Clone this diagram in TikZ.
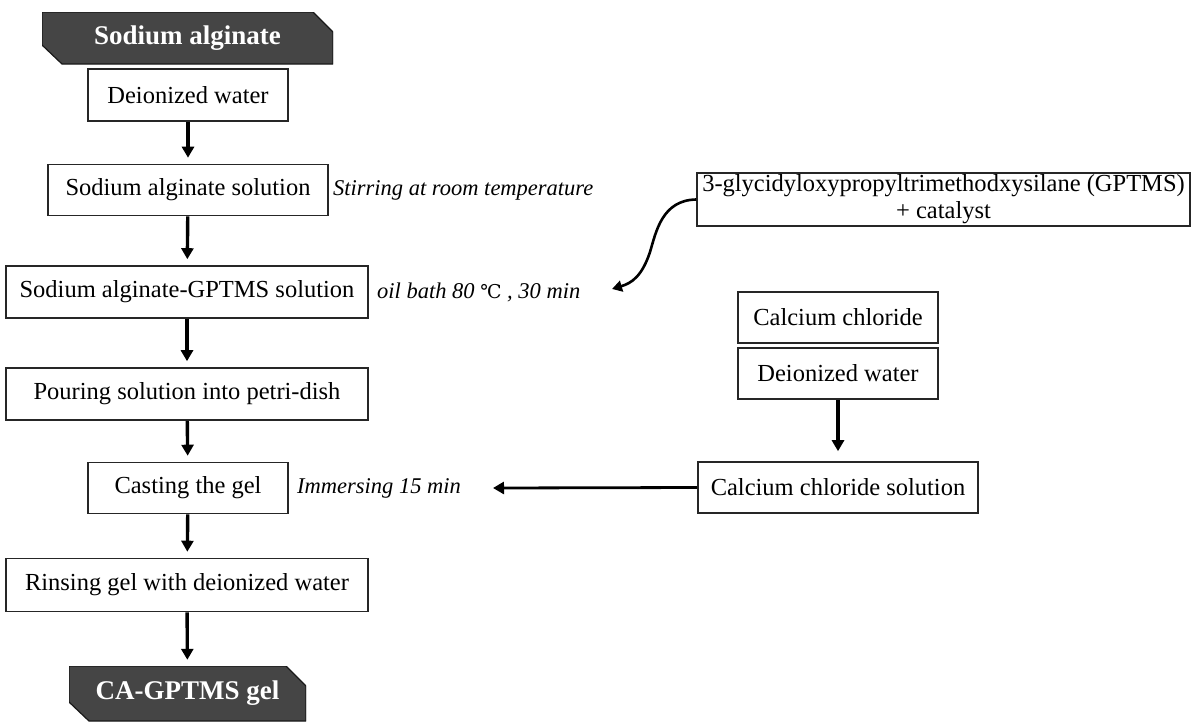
\documentclass[tikz,border=0pt]{standalone}
\usepackage{fontspec}
\setmainfont{Liberation Serif}
\newfontfamily\dejavu{DejaVu Serif}
\usetikzlibrary{arrows.meta}
\begin{document}
\begin{tikzpicture}[x=1pt,y=-1pt,
  box/.style={draw=black!85, line width=1.6pt, minimum height=51pt, inner sep=0pt,
    font=\fontsize{24.5}{27}\selectfont, fill=white},
  note/.style={anchor=west, inner sep=0pt, font=\fontsize{22.5}{25}\selectfont\itshape},
  flow/.style={line width=3.4pt, -{Triangle[length=11pt,width=12pt]}, shorten >=6pt},
  darkbox/.style={inner sep=0pt, text=white, font=\fontsize{27}{30}\selectfont\bfseries,
    path picture={\filldraw[fill=black!73, draw=black!90, line width=1.2pt]
      (path picture bounding box.north west)
      -- ([xshift=-20pt]path picture bounding box.north east)
      -- ([yshift=-20pt]path picture bounding box.north east)
      -- (path picture bounding box.south east)
      -- ([xshift=20pt]path picture bounding box.south west)
      -- ([yshift=19pt]path picture bounding box.south west)
      -- cycle;}}
]
\useasboundingbox (0,0) rectangle (1193,721);

% left column
\node[darkbox, minimum width=291pt, minimum height=52pt] (sa) at (187.5,38) {Sodium alginate};
\node[box, minimum width=200pt, minimum height=52pt] (dw1) at (188,95) {Deionized water};
\node[box, minimum width=280pt] (sas) at (188,190) {Sodium alginate solution};
\node[box, minimum width=362pt, minimum height=52pt] (sag) at (187,292) {Sodium alginate-GPTMS solution};
\node[box, minimum width=362pt, minimum height=52pt] (pour) at (187,394) {Pouring solution into petri-dish};
\node[box, minimum width=200pt] (cast) at (188,488) {Casting the gel};
\node[box, minimum width=362pt, minimum height=53pt] (rinse) at (187,585) {Rinsing gel with deionized water};
\node[darkbox, minimum width=237pt, minimum height=55pt] (ca) at (187.5,693.5) {CA-GPTMS gel};

% notes
\node[note] (n1) at (333,190) {Stirring at room temperature};
\node[note] (n2) at (377,292) {oil bath 80 {\dejavu\upshape\fontsize{19}{22}\selectfont ℃} , 30 min};
\node[note] (n3) at (297,488) {Immersing 15 min};

% right column
\node[box, minimum width=493pt, minimum height=53pt, align=center,
  font=\fontsize{24.5}{27}\selectfont] (reag) at (943.5,199.5)
  {3-glycidyloxypropyltrimethodxysilane (GPTMS)\\+ catalyst};
\node[box, minimum width=200pt] (cacl) at (838,317.5) {Calcium chloride};
\node[box, minimum width=200pt] (dw2) at (838,373.5) {Deionized water};
\node[box, minimum width=280pt] (ccs) at (838,487.5) {Calcium chloride solution};

\coordinate (tipA) at (493,488);
\coordinate (tipB) at (612,289);

% connectors
\draw[flow] (dw1) -- (sas);
\draw[flow] (sas) -- (sag);
\draw[flow] (sag) -- (pour);
\draw[flow] (pour) -- (cast);
\draw[flow] (cast) -- (rinse);
\draw[flow] (rinse) -- (ca);
\draw[flow, shorten >=10pt] (dw2) -- (ccs);
\draw[flow, line width=2.8pt, shorten >=0pt] (ccs.west) -- (tipA);
\draw[line width=2.6pt, -{Triangle[length=10pt,width=11pt]}]
  (reag.west) .. controls (662,200) and (656,232) .. (650,252)
  .. controls (642,276) and (632,283) .. (tipB);
\end{tikzpicture}
\end{document}
